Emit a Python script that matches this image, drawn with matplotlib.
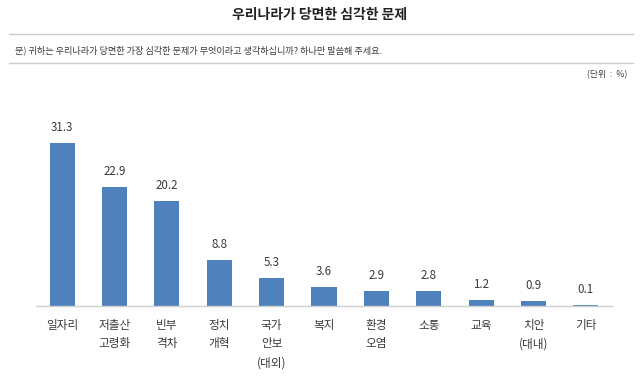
import matplotlib
matplotlib.use("Agg")
import matplotlib.pyplot as plt

plt.rcParams['font.family'] = ['Noto Sans CJK KR', 'DejaVu Sans']

categories = ["일자리", "저출산\n고령화", "빈부\n격차", "정치\n개혁", "국가\n안보\n(대외)",
              "복지", "환경\n오염", "소통", "교육", "치안\n(대내)", "기타"]
values = [31.3, 22.9, 20.2, 8.8, 5.3, 3.6, 2.9, 2.8, 1.2, 0.9, 0.1]

title = "우리나라가 당면한 심각한 문제"
question = "문) 귀하는 우리나라가 당면한 가장 심각한 문제가 무엇이라고 생각하십니까? 하나만 말씀해 주세요."
unit = "(단위  :  %)"

W, H = 640, 383
fig = plt.figure(figsize=(W / 100, H / 100), dpi=100)
fig.patch.set_facecolor("white")

def fx(px):
    return px / W

def fy(py):
    return 1 - py / H

text_color = "#3a3a3a"
bar_color = "#4F81BD"

# header
fig.text(fx(320), fy(15), title, ha="center", va="center", fontsize=10,
         fontweight="bold", color="#222222")
fig.add_artist(plt.Line2D([fx(9), fx(633)], [fy(34), fy(34)], color="#cccccc", lw=1))
fig.text(fx(15), fy(50), question, ha="left", va="center", fontsize=6.6, color=text_color)
fig.add_artist(plt.Line2D([fx(9), fx(633)], [fy(63), fy(63)], color="#cccccc", lw=1))
fig.text(fx(627), fy(75), unit, ha="right", va="center", fontsize=6.3, color=text_color)

# axes
ax_left, ax_right = 36, 612
ax_top, ax_bottom = 110, 306
ax = fig.add_axes([fx(ax_left), fy(ax_bottom), (ax_right - ax_left) / W, (ax_bottom - ax_top) / H])
x = list(range(len(values)))
bars = ax.bar(x, values, width=0.48, color=bar_color, zorder=2)
ax.set_xlim(-0.5, len(values) - 0.5)
ax.set_ylim(0, (ax_bottom - ax_top) / (163 / 31.3))

for xi, v in zip(x, values):
    ax.annotate(f"{v:.1f}", (xi, v), xytext=(0, 6.5), textcoords="offset points",
                ha="center", va="bottom", fontsize=8.3, color=text_color)

for s in ["top", "right", "left"]:
    ax.spines[s].set_visible(False)
ax.spines["bottom"].set_color("#d0d0d0")
ax.spines["bottom"].set_linewidth(1)
ax.set_yticks([])
ax.set_xticks(x)
ax.set_xticklabels(categories, fontsize=8.4, color=text_color, linespacing=1.58, va="top")
ax.tick_params(axis="x", length=0, pad=9)
ax.set_facecolor("white")

fig.savefig("out.png", dpi=100, facecolor="white")
